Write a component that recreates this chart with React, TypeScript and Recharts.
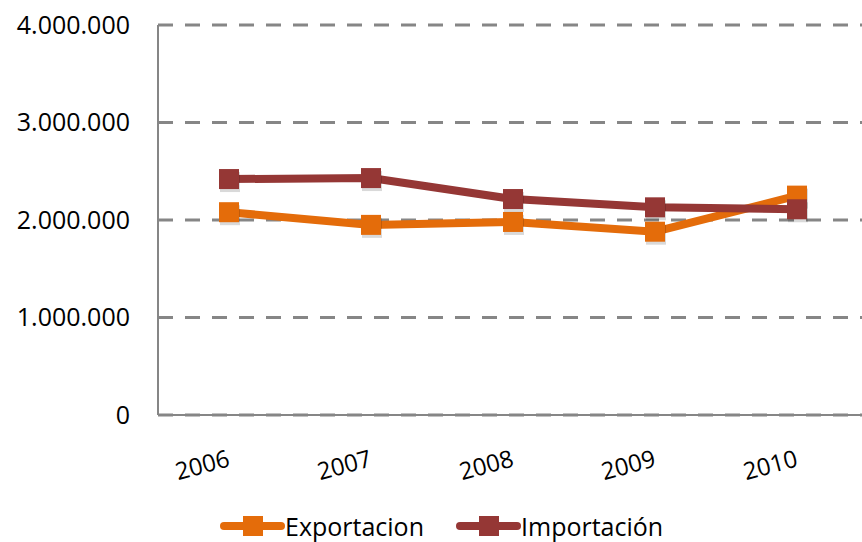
import { LineChart, Line, XAxis, YAxis, CartesianGrid } from 'recharts';

const years = ['2006', '2007', '2008', '2009', '2010'];
const exportacion = [2080000, 1950000, 1980000, 1880000, 2250000];
const importacion = [2420000, 2430000, 2215000, 2130000, 2110000];
const yTicks = [0, 1000000, 2000000, 3000000, 4000000];

const data = years.map((year, i) => ({ year, exportacion: exportacion[i], importacion: importacion[i] }));

const ORANGE = '#E46C0A';
const DARK_RED = '#953735';
const AXIS_GRAY = '#868686';
const FONT = 'Open Sans, Liberation Sans, sans-serif';

const fmt = (v: number) => (v === 0 ? '0' : v.toLocaleString('de-DE'));

function SquareDot(props: any) {
  const { cx, cy, fill } = props;
  if (cx == null || cy == null) return null;
  return (
    <g>
      <rect x={cx - 9} y={cy - 7} width={20} height={20} fill="#000" opacity={0.15} />
      <rect x={cx - 10} y={cy - 10} width={20} height={20} fill={fill} />
    </g>
  );
}

// Excel-style rotated labels: text ends at the category position
function YearTick(props: any) {
  const { x, y, payload } = props;
  return (
    <g transform={`translate(${x + 2},${y + 43})`}>
      <text textAnchor="end" fontSize={24} fontFamily={FONT} fill="#000" transform="rotate(-15)">
        {payload.value}
      </text>
    </g>
  );
}

function LegendItem({ color, label }: { color: string; label: string }) {
  return (
    <div style={{ display: 'flex', alignItems: 'center' }}>
      <svg width={65} height={22}>
        <line x1={4} y1={11} x2={61} y2={11} stroke={color} strokeWidth={8} strokeLinecap="round" />
        <rect x={23} y={1} width={20} height={20} fill={color} />
      </svg>
      <span style={{ fontSize: 25, fontFamily: FONT, color: '#000', lineHeight: '26px' }}>{label}</span>
    </div>
  );
}

export default function App() {
  return (
    <div style={{ position: 'absolute', left: 0, top: 0, width: 862, height: 542, overflow: 'hidden', background: '#fff' }}>
      <LineChart width={872} height={505} data={data} margin={{ top: 25, right: 4, bottom: 0, left: 0 }}>
        <CartesianGrid vertical={false} stroke={AXIS_GRAY} strokeWidth={3} strokeDasharray="15 12" />
        <XAxis
          dataKey="year"
          axisLine={{ stroke: AXIS_GRAY, strokeWidth: 2 }}
          tickLine={false}
          tick={<YearTick />}
          height={90}
          interval={0}
          padding={{ left: 71, right: 71 }}
        />
        <YAxis
          domain={[0, 4000000]}
          ticks={yTicks}
          tickFormatter={fmt}
          width={158}
          axisLine={{ stroke: AXIS_GRAY, strokeWidth: 2 }}
          tickLine={false}
          tickMargin={22}
          tick={{ fontSize: 25, fontFamily: FONT, fill: '#000' }}
        />
        <Line
          dataKey="exportacion"
          name="Exportacion"
          stroke={ORANGE}
          strokeWidth={8}
          dot={<SquareDot fill={ORANGE} />}
          isAnimationActive={false}
        />
        <Line
          dataKey="importacion"
          name="Importación"
          stroke={DARK_RED}
          strokeWidth={8}
          dot={<SquareDot fill={DARK_RED} />}
          isAnimationActive={false}
        />
      </LineChart>
      <div style={{ position: 'absolute', top: 513, left: 220, display: 'flex', gap: 32 }}>
        <LegendItem color={ORANGE} label="Exportacion" />
        <LegendItem color={DARK_RED} label="Importación" />
      </div>
    </div>
  );
}
